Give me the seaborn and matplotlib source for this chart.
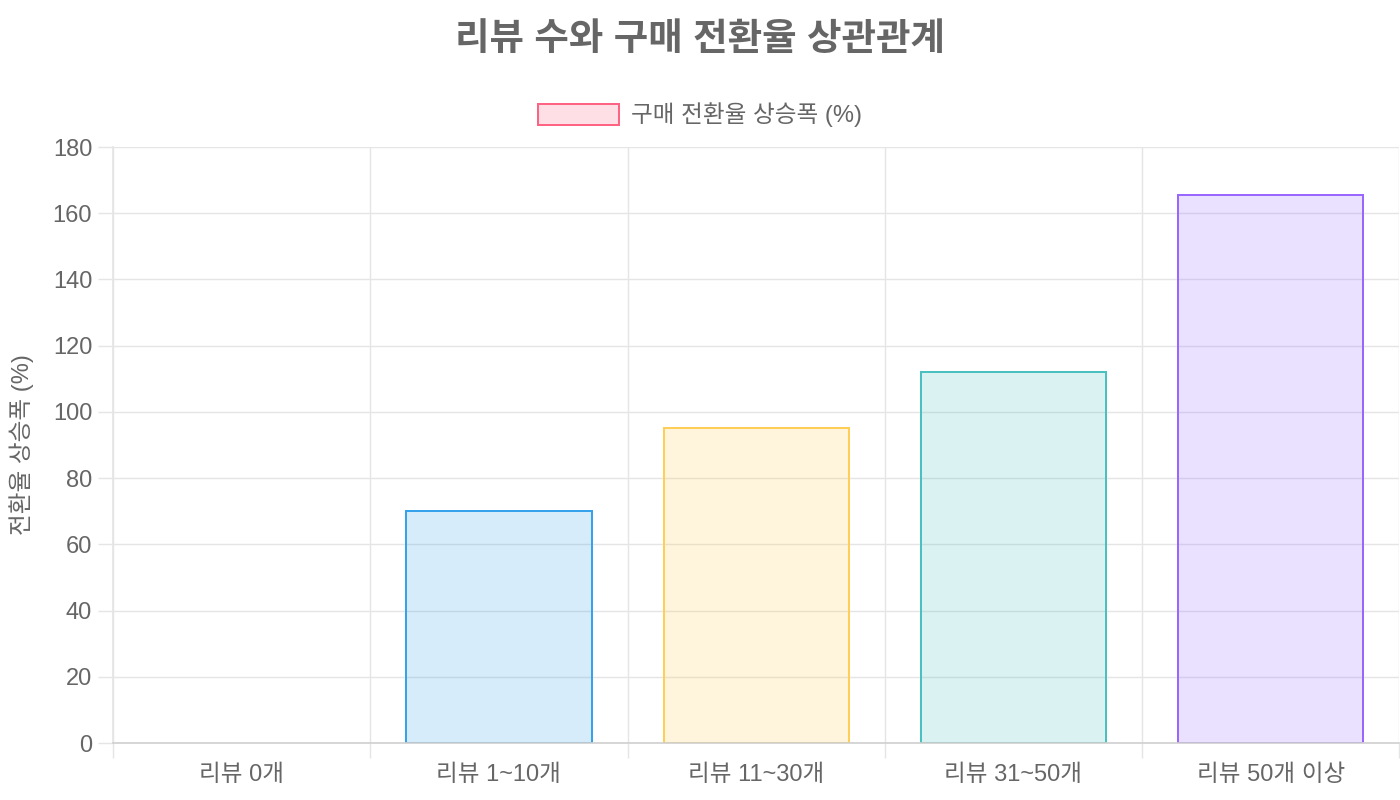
import matplotlib
matplotlib.use("Agg")
import matplotlib.pyplot as plt
import matplotlib.patches as mpatches
import numpy as np
import pandas as pd
import seaborn as sns

# data
categories = ["리뷰 0개", "리뷰 1~10개", "리뷰 11~30개", "리뷰 31~50개", "리뷰 50개 이상"]
uplift = [0, 70, 95, 112, 165.5]
series_label = "구매 전환율 상승폭 (%)"

# chart.js style rgb colours (border) – fill uses the same at 20% alpha
border_rgb = [(255, 99, 132), (54, 162, 235), (255, 206, 86), (75, 192, 192), (153, 102, 255)]

sns.set_theme(style="white")
plt.rcParams["font.family"] = ["Liberation Sans", "Noto Sans CJK KR", "DejaVu Sans"]

TEXT = "#666666"
GRID = "#e5e5e5"
FS = 17

df = pd.DataFrame({"category": categories, "uplift": uplift})

border = [tuple(c / 255 for c in rgb) for rgb in border_rgb]
fill = [tuple(c / 255 for c in rgb) + (0.2,) for rgb in border_rgb]

fig = plt.figure(figsize=(14, 8), dpi=100)
ax = fig.add_axes([113 / 1400, 1 - 743 / 800, 1 - 113 / 1400 - 0.0005, (743 - 147) / 800])

sns.barplot(data=df, x="category", y="uplift", hue="category", palette=fill,
            width=0.72, dodge=False, legend=False, ax=ax, saturation=1)

for bar, ec in zip(ax.patches, border):
    bar.set_edgecolor(ec)
    # a zero-height bar shows no border in the original
    bar.set_linewidth(1.44 if bar.get_height() > 0 else 0)

ax.set_xlim(-0.5, len(categories) - 0.5)
ax.set_ylim(0, 180)
ax.set_yticks(np.arange(0, 181, 20))
ax.set_xticks(np.arange(-0.5, len(categories), 1.0), minor=True)

ax.grid(axis="y", which="major", color=GRID, linewidth=1.0)
ax.grid(axis="x", which="minor", color=GRID, linewidth=1.0)
ax.set_axisbelow(True)

ax.tick_params(axis="x", which="major", length=0, pad=15, labelsize=FS, labelcolor=TEXT)
ax.tick_params(axis="x", which="minor", length=11, width=1.0, color=GRID, bottom=True)
ax.tick_params(axis="y", which="major", length=11, width=1.0, color=GRID, pad=4,
               labelsize=FS, labelcolor=TEXT, left=True)

for side in ["top", "right"]:
    ax.spines[side].set_visible(False)
ax.spines["left"].set_color(GRID)
ax.spines["bottom"].set_color("#cfcfcf")
ax.spines["bottom"].set_linewidth(1.2)

ax.set_xlabel("")
ax.set_ylabel("전환율 상승폭 (%)", fontsize=FS, color=TEXT)
ax.yaxis.set_label_coords(-0.0614, 0.5)

fig.suptitle("리뷰 수와 구매 전환율 상관관계", x=0.5, y=1 - 40 / 800, va="center",
             fontsize=27, fontweight="bold", color=TEXT)

handle = mpatches.Patch(facecolor=fill[0], edgecolor=border[0], linewidth=1.44)
fig.legend(handles=[handle], labels=[series_label], loc="center", bbox_to_anchor=(0.5, 1 - 115 / 800),
           frameon=False, fontsize=FS, labelcolor=TEXT, handlelength=3.4, handleheight=1.0,
           handletextpad=0.5)

fig.savefig("out.png", dpi=100)
